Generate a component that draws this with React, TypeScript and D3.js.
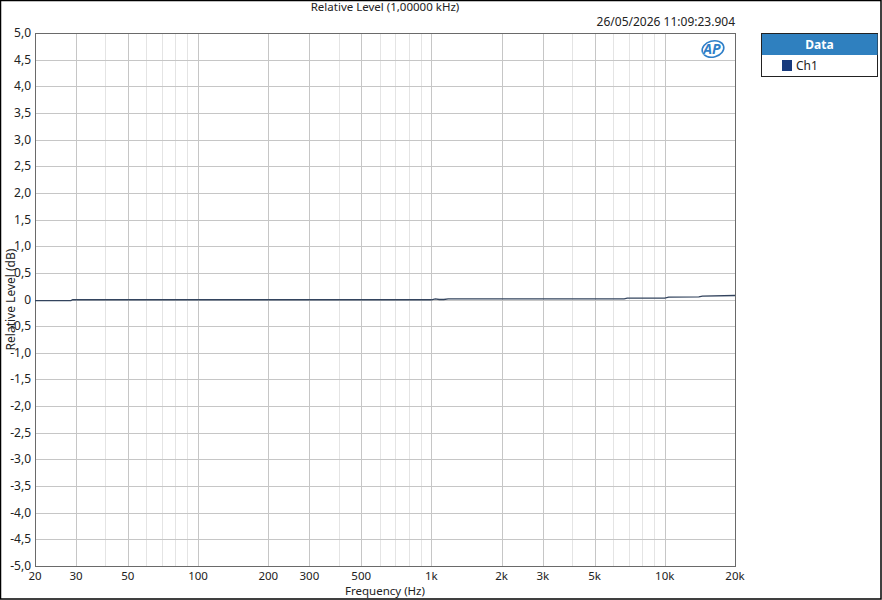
import React, { useEffect, useRef } from 'react';
import * as d3 from 'd3';

// Sweep (Hz, dB relative to 1 kHz)
const freqs = [20, 24, 28.5, 29, 50, 100, 200, 500, 1000, 1040, 1080, 1130, 1180, 1250, 2000, 5000, 6700, 6900, 10000, 10400, 14000, 14500, 20000];
const levels = [-0.02, -0.02, -0.02, -0.005, -0.005, -0.005, -0.005, -0.005, -0.005, 0.01, 0.0, 0.0, 0.01, 0.01, 0.01, 0.01, 0.01, 0.025, 0.025, 0.045, 0.05, 0.065, 0.075];

const xMajorTicks = [20, 30, 50, 100, 200, 300, 500, 1000, 2000, 3000, 5000, 10000, 20000];
const xTickLabels = ['20', '30', '50', '100', '200', '300', '500', '1k', '2k', '3k', '5k', '10k', '20k'];
const xMinorTicks = [40, 60, 70, 80, 90, 400, 600, 700, 800, 900, 4000, 6000, 7000, 8000, 9000];
const yTicks = [5, 4.5, 4, 3.5, 3, 2.5, 2, 1.5, 1, 0.5, 0, -0.5, -1, -1.5, -2, -2.5, -3, -3.5, -4, -4.5, -5];

const seriesName = 'Ch1';
const chartTitle = 'Relative Level (1,00000 kHz)';
const timestamp = '26/05/2026 11:09:23.904';

const W = 882;
const H = 600;
const FONT = '"Noto Sans", "Open Sans", sans-serif';

const App: React.FC = () => {
  const svgRef = useRef<SVGSVGElement>(null);

  useEffect(() => {
    if (!svgRef.current) return;
    const svg = d3.select(svgRef.current);
    svg.selectAll('*').remove();

    const x = d3.scaleLog().domain([20, 20000]).range([35, 735]);
    const y = d3.scaleLinear().domain([-5, 5]).range([566, 33]);

    // frame around the whole picture
    svg.append('rect')
      .attr('x', 0.5).attr('y', 0.5)
      .attr('width', W - 1.5).attr('height', H - 1.5)
      .attr('fill', '#fff').attr('stroke', '#000').attr('stroke-width', 1.5);

    const grid = svg.append('g');
    grid.selectAll('line.minor')
      .data(xMinorTicks)
      .enter().append('line')
      .attr('x1', d => Math.round(x(d)) + 0.5).attr('x2', d => Math.round(x(d)) + 0.5)
      .attr('y1', y(5)).attr('y2', y(-5))
      .attr('stroke', '#e4e4e4');
    grid.selectAll('line.major')
      .data(xMajorTicks)
      .enter().append('line')
      .attr('x1', d => Math.round(x(d)) + 0.5).attr('x2', d => Math.round(x(d)) + 0.5)
      .attr('y1', y(5)).attr('y2', y(-5))
      .attr('stroke', '#c6c6c6');
    grid.selectAll('line.h')
      .data(yTicks)
      .enter().append('line')
      .attr('x1', x(20)).attr('x2', x(20000))
      .attr('y1', d => Math.round(y(d)) + 0.5).attr('y2', d => Math.round(y(d)) + 0.5)
      .attr('stroke', '#c6c6c6');

    // plot border
    svg.append('rect')
      .attr('x', x(20) + 0.5).attr('y', y(5) + 0.5)
      .attr('width', x(20000) - x(20)).attr('height', y(-5) - y(5))
      .attr('fill', 'none').attr('stroke', '#6a6a6a');

    // y tick labels
    svg.append('g').selectAll('text')
      .data(yTicks)
      .enter().append('text')
      .attr('x', 31).attr('y', d => y(d) + 4)
      .attr('text-anchor', 'end')
      .attr('font-family', FONT).attr('font-size', 12).attr('fill', '#222')
      .text(d => (d === 0 ? '0' : d3.format('.1f')(d).replace('.', ',').replace('−', '-')));

    // x tick labels
    svg.append('g').selectAll('text')
      .data(xMajorTicks)
      .enter().append('text')
      .attr('x', d => x(d)).attr('y', 580)
      .attr('text-anchor', 'middle')
      .attr('font-family', FONT).attr('font-size', 11.5).attr('fill', '#222')
      .text((_, i) => xTickLabels[i]);

    svg.append('text')
      .attr('x', 385).attr('y', 595)
      .attr('text-anchor', 'middle')
      .attr('font-family', FONT).attr('font-size', 11.5).attr('fill', '#222')
      .text('Frequency (Hz)');

    svg.append('text')
      .attr('transform', `translate(15,${y(0)}) rotate(-90)`)
      .attr('text-anchor', 'middle')
      .attr('font-family', FONT).attr('font-size', 12).attr('fill', '#222')
      .text('Relative Level (dB)');

    svg.append('text')
      .attr('x', 385).attr('y', 11)
      .attr('text-anchor', 'middle')
      .attr('font-family', FONT).attr('font-size', 11.5).attr('fill', '#222')
      .text(chartTitle);

    svg.append('text')
      .attr('x', 735).attr('y', 26)
      .attr('text-anchor', 'end')
      .attr('font-family', FONT).attr('font-size', 12).attr('fill', '#222')
      .text(timestamp);

    // AP logo
    const logo = svg.append('g').attr('transform', 'translate(713,49)');
    logo.append('ellipse')
      .attr('rx', 11).attr('ry', 8)
      .attr('fill', 'none').attr('stroke', '#2f7fc8').attr('stroke-width', 1.6)
      .attr('transform', 'rotate(-15)');
    logo.append('text')
      .attr('x', -1).attr('y', 5)
      .attr('text-anchor', 'middle')
      .attr('font-family', FONT).attr('font-size', 14).attr('font-weight', 700)
      .attr('font-style', 'italic').attr('fill', '#2f7fc8')
      .attr('stroke', '#fff').attr('stroke-width', 0.6).attr('paint-order', 'stroke')
      .text('AP');

    // data line
    const pts: [number, number][] = freqs.map((f, i) => [f, levels[i]]);
    const line = d3.line<[number, number]>()
      .x(d => x(d[0]))
      .y(d => y(d[1]));
    svg.append('path')
      .datum(pts)
      .attr('d', line)
      .attr('fill', 'none')
      .attr('stroke', '#33445e')
      .attr('stroke-width', 1.3);

    // legend
    const lg = svg.append('g').attr('transform', 'translate(761,33)');
    lg.append('rect')
      .attr('x', 0.5).attr('y', 0.5).attr('width', 116).attr('height', 43)
      .attr('fill', '#fff').attr('stroke', '#222');
    lg.append('rect')
      .attr('x', 1).attr('y', 1).attr('width', 115.5).attr('height', 21)
      .attr('fill', '#2f80bf');
    lg.append('text')
      .attr('x', 58.5).attr('y', 16)
      .attr('text-anchor', 'middle')
      .attr('font-family', FONT).attr('font-size', 12).attr('font-weight', 700).attr('fill', '#fff')
      .text('Data');
    lg.append('rect')
      .attr('x', 21).attr('y', 27).attr('width', 10).attr('height', 11)
      .attr('fill', '#173a7c');
    lg.append('text')
      .attr('x', 35).attr('y', 37)
      .attr('font-family', FONT).attr('font-size', 12).attr('fill', '#222')
      .text(seriesName);
  }, []);

  return (
    <svg
      ref={svgRef}
      width={W}
      height={H}
      style={{ position: 'absolute', left: 0, top: 0, display: 'block' }}
    />
  );
};

export default App;
